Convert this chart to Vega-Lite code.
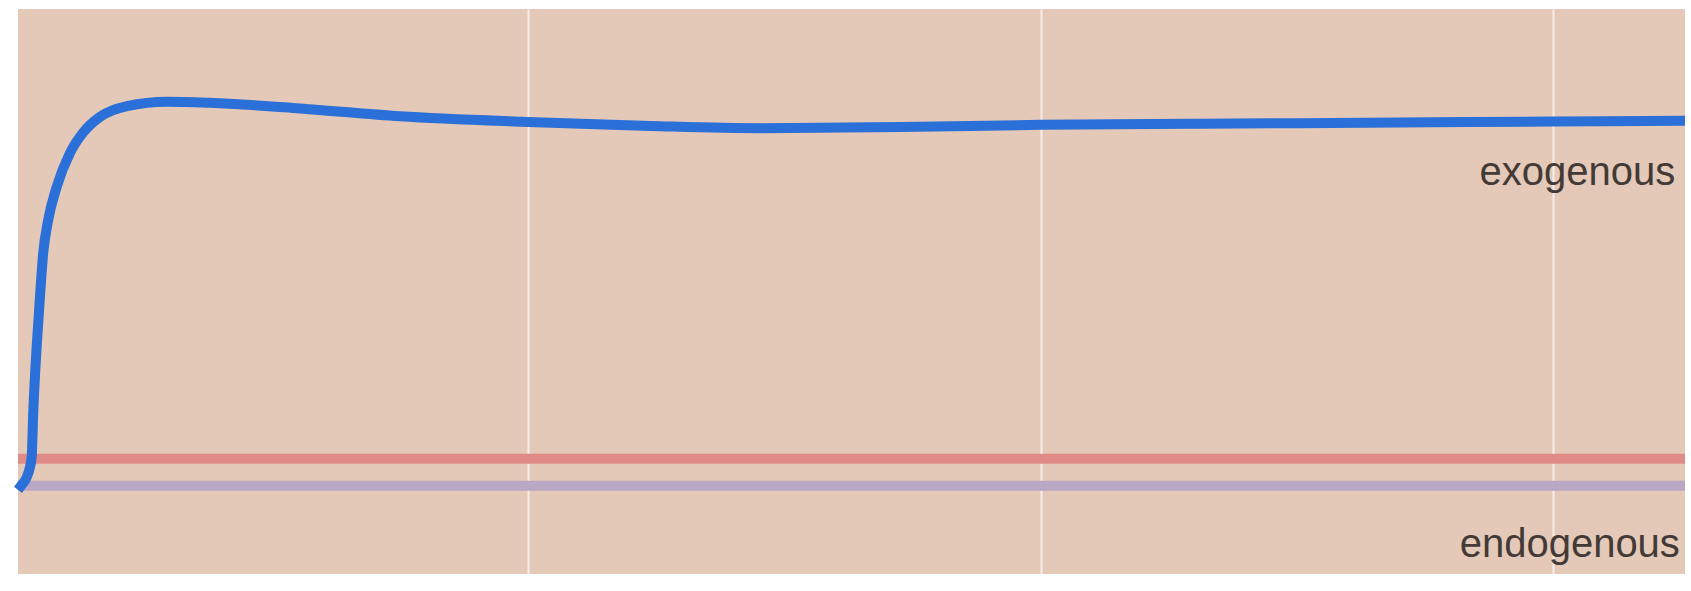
{
  "$schema": "https://vega.github.io/schema/vega-lite/v6.json",
  "width": 1667,
  "height": 565,
  "autosize": "none",
  "padding": {"left": 18, "top": 9, "right": 6, "bottom": 17},
  "background": "#ffffff",
  "config": {"view": {"fill": "#e4c8b8", "stroke": null}},
  "datasets": {
    "curves": [
      {"series": "endogenous", "t": 0.005, "v": 15.6},
      {"series": "endogenous", "t": 3.257, "v": 15.6},
      {"series": "threshold", "t": 0.005, "v": 20.4},
      {"series": "threshold", "t": 3.257, "v": 20.4},
      {"series": "exogenous", "t": 0.005, "v": 14.9},
      {"series": "exogenous", "t": 0.0121, "v": 15.75},
      {"series": "exogenous", "t": 0.0219, "v": 17.1},
      {"series": "exogenous", "t": 0.0316, "v": 20.6},
      {"series": "exogenous", "t": 0.0347, "v": 28.5},
      {"series": "exogenous", "t": 0.0414, "v": 40.2},
      {"series": "exogenous", "t": 0.0478, "v": 49.0},
      {"series": "exogenous", "t": 0.0542, "v": 56.8},
      {"series": "exogenous", "t": 0.064, "v": 62.7},
      {"series": "exogenous", "t": 0.0804, "v": 68.5},
      {"series": "exogenous", "t": 0.1063, "v": 74.5},
      {"series": "exogenous", "t": 0.1317, "v": 78.1},
      {"series": "exogenous", "t": 0.1649, "v": 80.9},
      {"series": "exogenous", "t": 0.2176, "v": 82.8},
      {"series": "exogenous", "t": 0.2956, "v": 83.6},
      {"series": "exogenous", "t": 0.3795, "v": 83.4},
      {"series": "exogenous", "t": 0.555, "v": 82.4},
      {"series": "exogenous", "t": 0.750, "v": 81.0},
      {"series": "exogenous", "t": 1.000, "v": 80.0},
      {"series": "exogenous", "t": 1.238, "v": 79.3},
      {"series": "exogenous", "t": 1.453, "v": 78.9},
      {"series": "exogenous", "t": 1.726, "v": 79.1},
      {"series": "exogenous", "t": 2.001, "v": 79.5},
      {"series": "exogenous", "t": 2.311, "v": 79.7},
      {"series": "exogenous", "t": 2.701, "v": 79.9},
      {"series": "exogenous", "t": 3.000, "v": 80.1},
      {"series": "exogenous", "t": 3.257, "v": 80.2}
    ],
    "labels": [
      {"label": "exogenous", "t": 3.238, "v": 68.8},
      {"label": "endogenous", "t": 3.247, "v": 3.0}
    ]
  },
  "layer": [
    {
      "data": {"name": "curves"},
      "mark": {"type": "line", "strokeWidth": 10, "interpolate": "monotone", "strokeCap": "butt", "strokeJoin": "round"},
      "encoding": {
        "x": {
          "field": "t", "type": "quantitative",
          "scale": {"domain": [0.005, 3.257], "nice": false, "zero": false},
          "axis": {"values": [1, 2, 3], "labels": false, "ticks": false, "domain": false, "title": null, "grid": true, "gridColor": "#f6eeea", "gridWidth": 2, "gridOpacity": 1}
        },
        "y": {
          "field": "v", "type": "quantitative",
          "scale": {"domain": [0, 100], "nice": false},
          "axis": null
        },
        "color": {
          "field": "series", "type": "nominal",
          "scale": {"domain": ["endogenous", "threshold", "exogenous"], "range": ["#b9a7c4", "#e08b88", "#2b6fd8"]},
          "legend": null
        }
      }
    },
    {
      "data": {"name": "labels"},
      "mark": {"type": "text", "align": "right", "baseline": "alphabetic", "font": "Liberation Sans Narrow, Liberation Sans, Arial, sans-serif", "fontSize": 40, "color": "#433a36"},
      "encoding": {
        "x": {"field": "t", "type": "quantitative"},
        "y": {"field": "v", "type": "quantitative"},
        "text": {"field": "label"}
      }
    }
  ]
}
